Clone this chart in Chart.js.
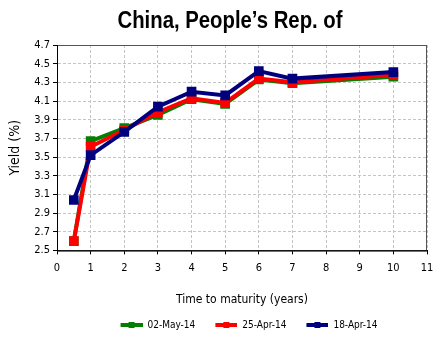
<!DOCTYPE html>
<html>
<head>
<meta charset="utf-8">
<script src="https://cdn.jsdelivr.net/npm/chart.js"></script>
<style>
  html, body { margin: 0; padding: 0; background: #fff; }
  #wrap { width: 435px; height: 337px; }
</style>
</head>
<body>
<div id="wrap"><canvas id="yieldChart" width="435" height="337"></canvas></div>
<script>
  const chartTitle = "China, People\u2019s Rep. of";
  const maturities = [0.5, 1, 2, 3, 4, 5, 6, 7, 10];
  const may02 = [2.60, 3.67, 3.81, 3.95, 4.12, 4.07, 4.33, 4.29, 4.36];
  const apr25 = [2.60, 3.61, 3.79, 3.98, 4.13, 4.08, 4.34, 4.30, 4.38];
  const apr18 = [3.04, 3.52, 3.77, 4.04, 4.20, 4.16, 4.42, 4.34, 4.41];

  const FONT = "'DejaVu Sans Condensed', sans-serif";

  // legend icon: line with a square, sitting at the right of a wider box
  function legendIcon(color) {
    const c = document.createElement("canvas");
    c.width = 36; c.height = 8;
    const g = c.getContext("2d");
    g.strokeStyle = color;
    g.lineWidth = 4;
    g.beginPath();
    g.moveTo(14, 4);
    g.lineTo(36, 4);
    g.stroke();
    g.fillStyle = color;
    g.fillRect(22, 1, 6, 6);
    return c;
  }

  function series(label, values, color) {
    return {
      label: label,
      data: maturities.map((m, i) => ({ x: m, y: values[i] })),
      borderColor: color,
      backgroundColor: color,
      borderWidth: 4,
      pointStyle: "rect",
      pointRadius: 4,
      pointHoverRadius: 4,
      tension: 0,
      icon: legendIcon(color)
    };
  }

  const ctx = document.getElementById("yieldChart");

  const chart = new Chart(ctx, {
    type: "line",
    data: {
      datasets: [
        series("18-Apr-14", apr18, "#00007f"),
        series("25-Apr-14", apr25, "#ff0000"),
        series("02-May-14", may02, "#007f00")
      ]
    },
    options: {
      responsive: false,
      animation: false,
      layout: { padding: { left: 4, right: -4, top: 45, bottom: 0 } },
      scales: {
        x: {
          type: "linear",
          min: 0,
          max: 11,
          afterFit: s => { s.paddingRight = -4; },
          ticks: { stepSize: 1, color: "#000", font: { family: FONT, size: 11 }, padding: 7 },
          grid: { color: "#c4c4c4", tickColor: "#000", tickLength: 4, lineWidth: 1 },
          border: { color: "#000", width: 1, dash: [3, 2] },
          title: {
            display: true,
            text: "Time to maturity (years)",
            color: "#000",
            font: { family: FONT, size: 12 },
            padding: { top: 11, bottom: 4 }
          }
        },
        y: {
          min: 2.5,
          max: 4.7,
          afterFit: s => { s.width = 53; },
          ticks: {
            stepSize: 0.2,
            autoSkip: false,
            color: "#000",
            font: { family: FONT, size: 11 },
            padding: 3,
            callback: v => v.toFixed(1)
          },
          grid: { color: "#c4c4c4", tickColor: "#000", tickLength: 4, lineWidth: 1 },
          border: { color: "#000", width: 1, dash: [3, 2] },
          title: {
            display: true,
            text: "Yield (%)",
            color: "#000",
            font: { family: FONT, size: 14 },
            padding: { top: 3, bottom: 0 }
          }
        }
      },
      plugins: {
        title: { display: false },
        legend: {
          position: "bottom",
          reverse: true,
          labels: {
            usePointStyle: true,
            pointStyleWidth: 36,
            color: "#000",
            font: { family: FONT, size: 10 },
            padding: 6,
            generateLabels: c => c.data.datasets.map((ds, i) => ({
              text: ds.label,
              pointStyle: ds.icon,
              fontColor: "#000",
              hidden: false,
              datasetIndex: i
            }))
          }
        },
        tooltip: { enabled: false }
      }
    },
    plugins: [{
      // narrow bold heading, frame around the plot area, legend nudged under the plot
      id: "decor",
      afterLayout(c) {
        const a = c.chartArea;
        const shift = (a.left + a.right) / 2 - (c.legend.left + c.legend.right) / 2;
        c.legend.left += shift;
        c.legend.right += shift;
        c.legend.top += 3;
        c.legend.bottom += 3;
      },
      afterDraw(c) {
        const a = c.chartArea;
        const g = c.ctx;
        g.save();
        g.strokeStyle = "#555";
        g.lineWidth = 1;
        g.strokeRect(a.left + 0.5, a.top + 0.5, a.right - a.left - 1, a.bottom - a.top);
        g.strokeStyle = "#000";
        g.beginPath();
        g.moveTo(a.left + 0.5, a.top);
        g.lineTo(a.left + 0.5, a.bottom + 0.5);
        g.lineTo(a.right, a.bottom + 0.5);
        g.stroke();

        g.font = "bold 24px 'Liberation Sans', sans-serif";
        g.fillStyle = "#000";
        g.textAlign = "center";
        g.textBaseline = "alphabetic";
        const w = g.measureText(chartTitle).width;
        const sx = 225 / w;
        g.translate(230, 28);
        g.scale(sx, 1);
        g.fillText(chartTitle, 0, 0);
        g.restore();
      }
    }]
  });
</script>
</body>
</html>
